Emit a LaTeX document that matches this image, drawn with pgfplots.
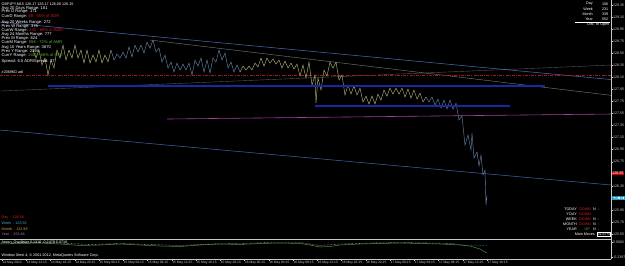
\documentclass[border=0pt]{standalone}
\usepackage{fontspec}
\setmainfont{Liberation Sans}
\usepackage{pgfplots}
\pgfplotsset{compat=1.18}
\usepackage{pgfplotstable}

\definecolor{khaki}{RGB}{175,175,120}
\definecolor{barblue}{RGB}{100,130,165}
\definecolor{trendblue}{RGB}{80,110,185}
\definecolor{lgray}{RGB}{125,125,125}
\definecolor{dgray}{RGB}{85,85,85}
\definecolor{dred}{RGB}{170,25,25}
\definecolor{thickblue}{RGB}{28,38,160}
\definecolor{magline}{RGB}{165,60,165}
\definecolor{lowblue}{RGB}{70,100,175}
\definecolor{tickgray}{RGB}{205,205,205}
\definecolor{axisgray}{RGB}{200,200,200}
\definecolor{txtred}{RGB}{210,30,30}
\definecolor{txtgreen}{RGB}{90,180,60}
\definecolor{wkblue}{RGB}{80,160,210}
\definecolor{mnorange}{RGB}{225,160,50}
\definecolor{yrpurple}{RGB}{165,115,210}
\definecolor{indgreen}{RGB}{80,140,60}

\pgfplotstableread{
x p
33 128.603
36 128.470
39 128.603
42 128.354
45 128.470
48 128.188
51 128.437
54 128.304
57 128.603
60 128.470
63 128.686
66 128.437
69 128.603
72 128.470
75 128.686
78 128.470
81 128.603
84 128.387
87 128.603
90 128.387
93 128.520
96 128.404
99 128.603
102 128.387
105 128.520
108 128.404
111 128.603
}\khakiA

\pgfplotstableread{
x p
111 128.603
114 128.437
117 128.537
120 128.470
123 128.570
126 128.470
129 128.653
132 128.487
135 128.686
138 128.570
141 128.686
144 128.553
147 128.736
150 128.636
153 128.769
156 128.570
159 128.636
162 128.404
165 128.520
168 128.304
171 128.404
174 128.238
177 128.387
180 128.271
183 128.371
186 128.271
189 128.387
192 128.188
195 128.437
198 128.337
201 128.470
204 128.238
207 128.437
210 128.221
213 128.470
216 128.404
219 128.603
222 128.437
225 128.553
228 128.304
231 128.404
234 128.238
237 128.354
240 128.238
}\blueA

\pgfplotstableread{
x p
240 128.238
243 128.337
246 128.271
249 128.337
252 128.271
255 128.387
258 128.321
261 128.470
264 128.337
267 128.470
270 128.387
273 128.454
276 128.371
279 128.437
282 128.304
285 128.420
288 128.304
291 128.387
294 128.288
297 128.371
300 128.171
303 128.354
306 128.138
309 128.404
312 128.022
315 128.188
316 127.723
318 128.138
321 127.939
324 128.271
327 128.171
330 128.404
333 128.304
336 128.404
339 128.105
342 128.188
345 127.856
348 128.022
351 127.873
354 128.005
357 127.856
360 127.972
363 127.740
366 127.839
369 127.707
372 127.839
375 127.707
378 127.873
381 127.773
384 127.939
387 127.839
390 127.972
393 127.873
396 127.972
399 127.873
402 127.972
405 127.823
408 127.956
411 127.806
414 127.939
417 127.790
420 127.889
423 127.740
426 127.823
}\khakiB

\pgfplotstableread{
x p
426 127.823
429 127.740
432 127.823
435 127.690
438 127.790
441 127.640
444 127.773
447 127.624
450 127.773
453 127.624
456 127.723
459 127.441
462 127.507
465 127.026
468 127.192
471 126.943
472 127.225
474 126.810
477 126.910
479 126.677
481 126.860
483 126.528
485 126.611
486 126.030
487 126.196
}\blueB

\pgfplotstableread{
x v
0 -0.0249
20 -0.0166
40 -0.0083
60 -0.0249
80 -0.0497
100 -0.0414
120 -0.0249
140 -0.0414
160 -0.0579
180 -0.0662
200 -0.0414
220 -0.0249
240 -0.0331
260 -0.0166
280 -0.0083
300 -0.0166
310 -0.0414
320 -0.0745
330 -0.0662
340 -0.0414
360 -0.0249
380 -0.0166
400 -0.0083
420 -0.0166
440 -0.0249
460 -0.0414
470 -0.0579
480 -0.1075
487 -0.1736
}\indA

\pgfplotstableread{
x v
0 -0.0083
30 -0.0001
60 -0.0083
90 -0.0331
120 -0.0166
150 -0.0331
180 -0.0497
210 -0.0249
240 -0.0166
270 -0.0001
300 -0.0001
320 -0.0497
340 -0.0249
370 -0.0083
400 -0.0001
430 -0.0083
455 -0.0166
}\indB

\pgfplotstableread{
x v
455 -0.0249
465 -0.0414
475 -0.0414
487 -0.0579
}\indC

\newcommand{\tl}{\fontsize{4.1}{4.5}\selectfont}
\newcommand{\ts}{\fontsize{3.7}{4.2}\selectfont}

\begin{document}
\begin{tikzpicture}
\path[use as bounding box, fill=black] (0,0) rectangle (625pt,266pt);

% main price window
\begin{axis}[
  at={(0pt,27pt)}, anchor=south west,
  scale only axis, width=611pt, height=239pt,
  xmin=0, xmax=611, ymin=125.467, ymax=129.433,
  axis x line*=bottom, axis y line*=right,
  axis line style={axisgray, line width=0.5pt},
  xtick=\empty,
  ytick={125.55,125.75,125.95,126.15,126.35,126.55,126.75,126.95,127.15,127.35,127.55,127.75,127.95,128.15,128.35,128.55,128.75,128.95,129.15,129.35},
  yticklabels={125.55,125.75,125.95,126.15,126.35,126.55,126.75,126.95,127.15,127.35,127.55,127.75,127.95,128.15,128.35,128.55,128.75,128.95,129.15,129.35},
  yticklabel style={font=\fontsize{3.6}{4}\selectfont, text=tickgray, anchor=west, inner sep=0.5pt},
  tick align=outside, major tick length=1.5pt,
  tick style={tickgray, line width=0.3pt},
  clip=true,
]
\addplot[lowblue, line width=0.5pt] coordinates {(0,127.275) (611,126.363)};
\addplot[magline, line width=0.6pt] coordinates {(167,127.458) (611,127.541)};
\addplot[dgray, line width=0.4pt] coordinates {(0,127.922) (611,128.354)};
\addplot[lgray, line width=0.4pt] coordinates {(150,128.769) (611,127.851)};
\addplot[trendblue, line width=0.5pt] coordinates {(0,129.068) (611,128.113)};
\addplot[dred, line width=0.7pt, dash pattern=on 3pt off 1.2pt on 1pt off 1.2pt] coordinates {(0,128.188) (611,128.188)};
\addplot[khaki, line width=0.45pt] table[x=x,y=p] {\khakiA};
\addplot[barblue, line width=0.45pt] table[x=x,y=p] {\blueA};
\addplot[khaki, line width=0.45pt] table[x=x,y=p] {\khakiB};
\addplot[barblue, line width=0.45pt] table[x=x,y=p] {\blueB};
\addplot[thickblue, line width=1.2pt] coordinates {(48,128.005) (545,128.005)};
\addplot[thickblue, line width=1.2pt] coordinates {(315,127.674) (510,127.674)};
\end{axis}

% indicator window
\begin{axis}[
  at={(0pt,7pt)}, anchor=south west,
  scale only axis, width=611pt, height=20pt,
  xmin=0, xmax=611, ymin=-0.2728, ymax=0.0578,
  axis x line*=bottom, axis y line*=right,
  axis line style={axisgray, line width=0.5pt},
  ytick={-0.2397,0.0082}, yticklabels={-0.2397,0.0082},
  yticklabel style={font=\fontsize{3.6}{4}\selectfont, text=tickgray, anchor=west, inner sep=0.5pt},
  xtick={2,26.25,50.5,74.75,99,123.25,147.5,171.75,196,220.25,244.5,268.75,293,317.25,341.5,365.75,390,414.25,438.5,462.75,487},
  xticklabels={14 May 2012,14 May 12:15,14 May 16:15,14 May 20:15,15 May 00:15,15 May 04:15,15 May 08:15,15 May 12:15,15 May 16:15,15 May 20:15,16 May 00:15,16 May 04:15,16 May 08:15,16 May 12:15,16 May 16:15,16 May 20:15,17 May 00:15,17 May 04:15,17 May 08:15,17 May 12:15,17 May 16:15},
  xticklabel style={font=\fontsize{3.3}{4}\selectfont, text=tickgray, anchor=north west, inner sep=0.4pt},
  tick align=outside, major tick length=1.5pt,
  tick style={tickgray, line width=0.3pt},
  clip=true,
]
\addplot[indgreen, line width=0.5pt] table[x=x,y=v] {\indA};
\addplot[white, line width=0.4pt, densely dotted] table[x=x,y=v] {\indB};
\addplot[wkblue, line width=0.5pt, densely dotted] table[x=x,y=v] {\indC};
\end{axis}

% top-left info block
\begin{scope}[every node/.style={anchor=west, inner sep=0pt, text=white, font=\tl}]
\node at (1.5pt,262pt) {\ts GBPJPY,M15 126.17 126.17 126.06 126.15};
\node at (1.5pt,258pt) {Avg 20 Days Range: 161};
\node at (1.5pt,254pt) {Prev D Range: 171};
\node at (1.5pt,250pt) {CurrD Range: \textcolor{txtred}{88 - 55\% of ADR}};
\node at (1.5pt,244pt) {Avg 20 Weeks Range: 272};
\node at (1.5pt,240pt) {Prev W Range: 376};
\node at (1.5pt,236pt) {CurrW Range: \textcolor{txtred}{240 - 88\% of AWR}};
\node at (1.5pt,232pt) {Avg 24 Months Range: 777};
\node at (1.5pt,228pt) {Prev M Range: 624};
\node at (1.5pt,224pt) {CurrM Range: \textcolor{txtgreen}{556 - 72\% of AMR}};
\node at (1.5pt,219pt) {Avg 10 Years Range: 3670};
\node at (1.5pt,215pt) {Prev Y Range: 2394};
\node at (1.5pt,211pt) {CurrY Range: \textcolor{txtgreen}{2411 - 66\% of AYR}};
\node at (1.5pt,205pt) {Spread: 6.0 ADR/Spread: 27};
\node[font=\ts] at (1.5pt,194pt) {\#2069KD adl};
\end{scope}

% top-right block
\begin{scope}[every node/.style={inner sep=0pt, text=white, font=\ts}]
\node[anchor=east] at (593pt,262pt) {Day};
\node[anchor=east] at (593pt,257pt) {Week};
\node[anchor=east] at (593pt,252pt) {Month};
\node[anchor=east] at (593pt,247pt) {Year};
\node[anchor=east] at (608.5pt,262pt) {156};
\node[anchor=east] at (608.5pt,257pt) {231};
\node[anchor=east] at (608.5pt,252pt) {339};
\node[anchor=east] at (608.5pt,247pt) {552};
\node[anchor=east] at (609.5pt,241pt) {Dist. to Open};
\end{scope}
\draw[white, line width=0.3pt] (575pt,244.3pt) -- (610pt,244.3pt);

% bottom-left day/week/month/year opens
\begin{scope}[every node/.style={anchor=west, inner sep=0pt, font=\ts}]
\node[text=txtred] at (1.5pt,48pt) {Day \ - 128.58};
\node[text=wkblue] at (1.5pt,42.5pt) {Week \ - 128.92};
\node[text=mnorange] at (1.5pt,37pt) {Month \ - 122.98};
\node[text=yrpurple] at (1.5pt,31.5pt) {Year \ - 153.48};
\end{scope}

% bottom-right trend panel
\begin{scope}[every node/.style={inner sep=0pt, font=\ts}]
\node[anchor=east, text=white] at (577pt,57pt) {TODAY};
\node[anchor=east, text=white] at (577pt,52pt) {Y'DAY};
\node[anchor=east, text=white] at (577pt,47pt) {WEEK};
\node[anchor=east, text=white] at (577pt,42pt) {MONTH};
\node[anchor=east, text=white] at (577pt,37pt) {YEAR};
\node[anchor=west, text=txtred] at (579pt,57pt) {DOWN};
\node[anchor=west, text=txtred] at (579pt,52pt) {DOWN};
\node[anchor=west, text=txtred] at (579pt,47pt) {DOWN};
\node[anchor=west, text=txtred] at (579pt,42pt) {DOWN};
\node[anchor=east, text=txtgreen] at (590pt,37pt) {UP};
\node[anchor=west, text=white] at (593pt,57pt) {N \ -};
\node[anchor=west, text=white] at (593pt,47pt) {N \ -};
\node[anchor=west, text=white] at (593pt,42pt) {N \ -};
\node[anchor=west, text=white] at (593pt,37pt) {N \ -};
\node[anchor=east, text=white] at (595pt,32pt) {Main Moves};
\node[anchor=west, text=white, draw=white, line width=0.2pt, inner sep=0.4pt] at (597pt,32pt) {91.67\%};
\end{scope}

% price-scale highlight labels
\node[anchor=west, fill=red!85!black, text=white, inner sep=0.5pt, font=\fontsize{3.6}{4}\selectfont] at (611.6pt,92.3pt) {126.55};
\node[anchor=west, fill=white, draw=cyan, line width=0.3pt, text=black, inner sep=0.5pt, font=\fontsize{3.6}{4}\selectfont] at (611.6pt,68.2pt) {126.15};

% indicator caption and footer
\node[anchor=west, inner sep=0pt, text=white, font=\ts] at (1.5pt,23pt) {Aroon\_Oscillator 0.1316 -0.2479 0.0718};
\node[anchor=west, inner sep=0pt, text=white, font=\ts] at (1.5pt,10.5pt) {Window Stest 4, © 2001-2012, MetaQuotes Software Corp.};
\end{tikzpicture}
\end{document}
